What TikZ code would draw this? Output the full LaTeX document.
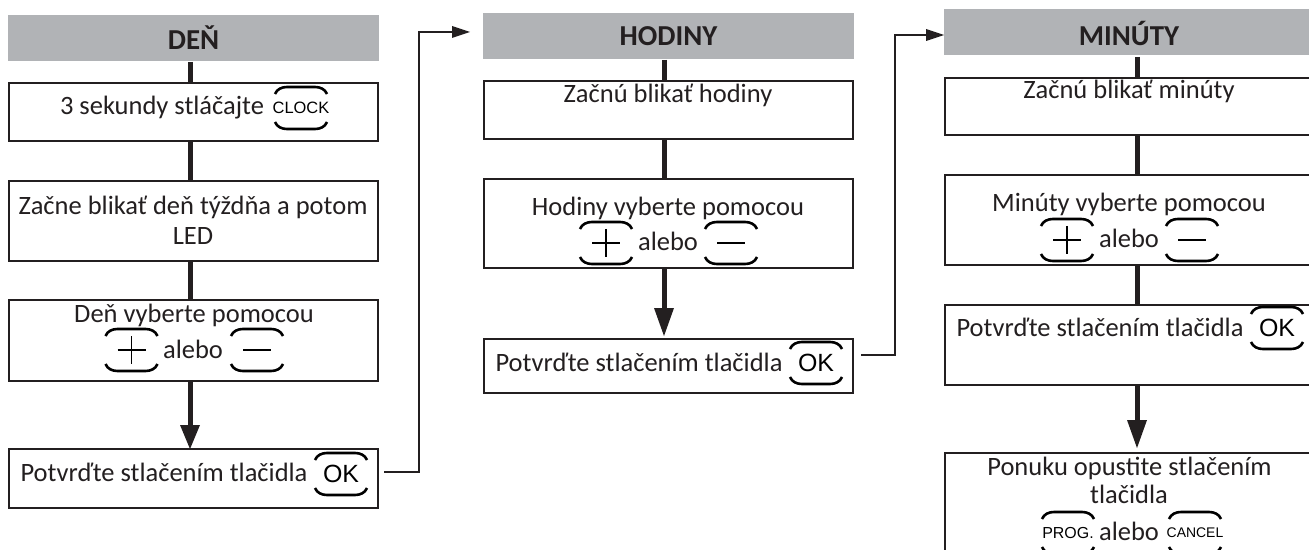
\documentclass[tikz,border=0pt]{standalone}
\usepackage{fontspec}
\setmainfont{Carlito}
\newfontfamily\keyfont{Liberation Sans}
\definecolor{ink}{HTML}{231F20}
\definecolor{headgrey}{HTML}{B1B3B6}
\tikzset{
  x=1bp,y=-1bp,
  header/.style={fill=headgrey,text=ink,font=\fontsize{29}{32}\selectfont\bfseries,inner sep=0pt},
  stepbox/.style={draw=ink,line width=2bp,fill=white,text=ink,inner sep=0pt},
  body/.style={text=ink,inner sep=0pt,font=\fontsize{26.6}{30}\selectfont,align=center},
  flow/.style={draw=ink,line width=5bp},
  thin link/.style={draw=ink,line width=1.9bp},
  headtip/.style={fill=ink,draw=none},
  keymark/.style={draw=black,line width=2.6bp},
  glyphmark/.style={draw=black,line width=1.8bp},
  keytext/.style={text=black,inner sep=0pt}
}
\newcommand{\keybrackets}[2]{%
  \draw[keymark] (#1-26,#2-14) .. controls (#1-24,#2-19) and (#1-19,#2-21) .. (#1-14,#2-21) -- (#1+14,#2-21) .. controls (#1+19,#2-21) and (#1+24,#2-19) .. (#1+26,#2-14);
  \draw[keymark] (#1-26,#2+14) .. controls (#1-24,#2+19) and (#1-19,#2+21) .. (#1-14,#2+21) -- (#1+14,#2+21) .. controls (#1+19,#2+21) and (#1+24,#2+19) .. (#1+26,#2+14);
}
\newcommand{\plusbtn}[2]{\keybrackets{#1}{#2}\draw[glyphmark] (#1-14,#2) -- (#1+14,#2) (#1,#2-14) -- (#1,#2+14);}
\newcommand{\minusbtn}[2]{\keybrackets{#1}{#2}\draw[glyphmark] (#1-14,#2) -- (#1+14,#2);}
\begin{document}
\begin{tikzpicture}
\useasboundingbox (0,0) rectangle (1309,550);
\clip (0,0) rectangle (1309,550);
% column 1
\node[header,minimum width=371bp,minimum height=46bp] (h1) at (193.5,38) {DEŇ};
\node[stepbox,minimum width=369bp,minimum height=58bp] (a1) at (193.5,112) {};
\node[stepbox,minimum width=369bp,minimum height=80bp] (a2) at (193.5,221) {};
\node[stepbox,minimum width=369bp,minimum height=81bp] (a3) at (193.5,340.5) {};
\node[stepbox,minimum width=369bp,minimum height=59bp] (a4) at (193.5,478.5) {};
\coordinate (c1) at (190,62);
\draw[flow] (c1) -- (c1 |- a1.north);
\draw[flow] (c1 |- a1.south) -- (c1 |- a2.north);
\draw[flow] (c1 |- a2.south) -- (c1 |- a3.north);
\draw[flow] (c1 |- a3.south) -- (190,427);
\fill[headtip] (180,425) -- (200,425) -- (190,449) -- cycle;
\node[body,anchor=base] (a1t) at (162,115) {3 sekundy stláčajte};
\node[keytext,font=\keyfont\fontsize{16.5}{16.5}\selectfont] (a1k) at (301,108) {CLOCK};
\keybrackets{301}{108}
\node[body,anchor=base] (a2t) at (193,215) {Začne blikať deň týždňa a potom};
\node[body,anchor=base] (a2u) at (193,245) {LED};
\node[body,anchor=base] (a3t) at (194,322) {Deň vyberte pomocou};
\node[body,anchor=base] (a3u) at (193,358) {alebo};
\plusbtn{131.5}{350}
\minusbtn{257}{350}
\node[body,anchor=base] (a4t) at (164,481) {Potvrďte stlačením tlačidla};
\node[keytext,font=\keyfont\fontsize{25}{25}\selectfont] (a4k) at (341,474) {OK};
\keybrackets{341}{474}
\coordinate (j1a) at (384,472);
\coordinate (j1b) at (419,472);
\coordinate (j1c) at (419,32);
\coordinate (j1d) at (453,32);
\draw[thin link] (j1a) -- (j1b) -- (j1c) -- (j1d);
\fill[headtip] (452,26) -- (452,38) -- (470,32) -- cycle;
% column 2
\node[header,minimum width=371bp,minimum height=46bp] (h2) at (668.5,36) {HODINY};
\node[stepbox,minimum width=369bp,minimum height=58bp] (b1) at (668.5,110) {};
\node[stepbox,minimum width=369bp,minimum height=89bp] (b2) at (668.5,223.5) {};
\node[stepbox,minimum width=369bp,minimum height=54bp] (b3) at (668.5,366) {};
\coordinate (c2) at (664,60);
\draw[flow] (c2) -- (c2 |- b1.north);
\draw[flow] (c2 |- b1.south) -- (c2 |- b2.north);
\draw[flow] (c2 |- b2.south) -- (664,310);
\fill[headtip] (654,308) -- (674,308) -- (664,336) -- cycle;
\node[body,anchor=base] (b1t) at (668,103) {Začnú blikať hodiny};
\node[body,anchor=base] (b2t) at (668,216) {Hodiny vyberte pomocou};
\node[body,anchor=base] (b2u) at (668,251) {alebo};
\plusbtn{606}{243}
\minusbtn{731}{243}
\node[body,anchor=base] (b3t) at (639,371) {Potvrďte stlačením tlačidla};
\node[keytext,font=\keyfont\fontsize{25}{25}\selectfont] (b3k) at (816,363) {OK};
\keybrackets{816}{363}
\coordinate (j2a) at (861,355);
\coordinate (j2b) at (895,355);
\coordinate (j2c) at (895,35);
\coordinate (j2d) at (928,35);
\draw[thin link] (j2a) -- (j2b) -- (j2c) -- (j2d);
\fill[headtip] (926,29) -- (926,41) -- (944,35) -- cycle;
% column 3
\node[header,minimum width=365bp,minimum height=46bp] (h3) at (1126.5,32) {};
\node[text=ink,font=\fontsize{29}{32}\selectfont\bfseries,inner sep=0pt] (h3t) at (1129,33) {MINÚTY};
\node[stepbox,minimum width=385bp,minimum height=57bp] (d1) at (1137.5,106.5) {};
\node[stepbox,minimum width=385bp,minimum height=90bp] (d2) at (1137.5,220) {};
\node[stepbox,minimum width=385bp,minimum height=80bp] (d3) at (1137.5,345) {};
\node[stepbox,minimum width=385bp,minimum height=120bp] (d4) at (1137.5,513) {};
\coordinate (c3) at (1137,57);
\draw[flow] (c3) -- (c3 |- d1.north);
\draw[flow] (c3 |- d1.south) -- (c3 |- d2.north);
\draw[flow] (c3 |- d2.south) -- (c3 |- d3.north);
\draw[flow] (c3 |- d3.south) -- (1137,422);
\fill[headtip] (1127,420) -- (1147,420) -- (1137,448) -- cycle;
\node[body,anchor=base] (d1t) at (1129,99) {Začnú blikať minúty};
\node[body,anchor=base] (d2t) at (1129,212) {Minúty vyberte pomocou};
\node[body,anchor=base] (d2u) at (1129,248) {alebo};
\plusbtn{1067}{240}
\minusbtn{1192}{240}
\node[body,anchor=base] (d3t) at (1100,336) {Potvrďte stlačením tlačidla};
\node[keytext,font=\keyfont\fontsize{25}{25}\selectfont] (d3k) at (1277,328) {OK};
\keybrackets{1277}{328}
\node[body,anchor=base] (d4t) at (1129.5,475) {Ponuku opustite stlačením};
\node[body,anchor=base] (d4u) at (1129,503) {tlačidla};
\node[body,anchor=base] (d4v) at (1129,540) {alebo};
\node[keytext,font=\keyfont\fontsize{16}{16}\selectfont] (d4a) at (1068,533) {PROG.};
\node[keytext,font=\keyfont\fontsize{14}{14}\selectfont] (d4b) at (1195,533) {CANCEL};
\keybrackets{1068}{533}
\keybrackets{1195}{533}
\end{tikzpicture}
\end{document}
